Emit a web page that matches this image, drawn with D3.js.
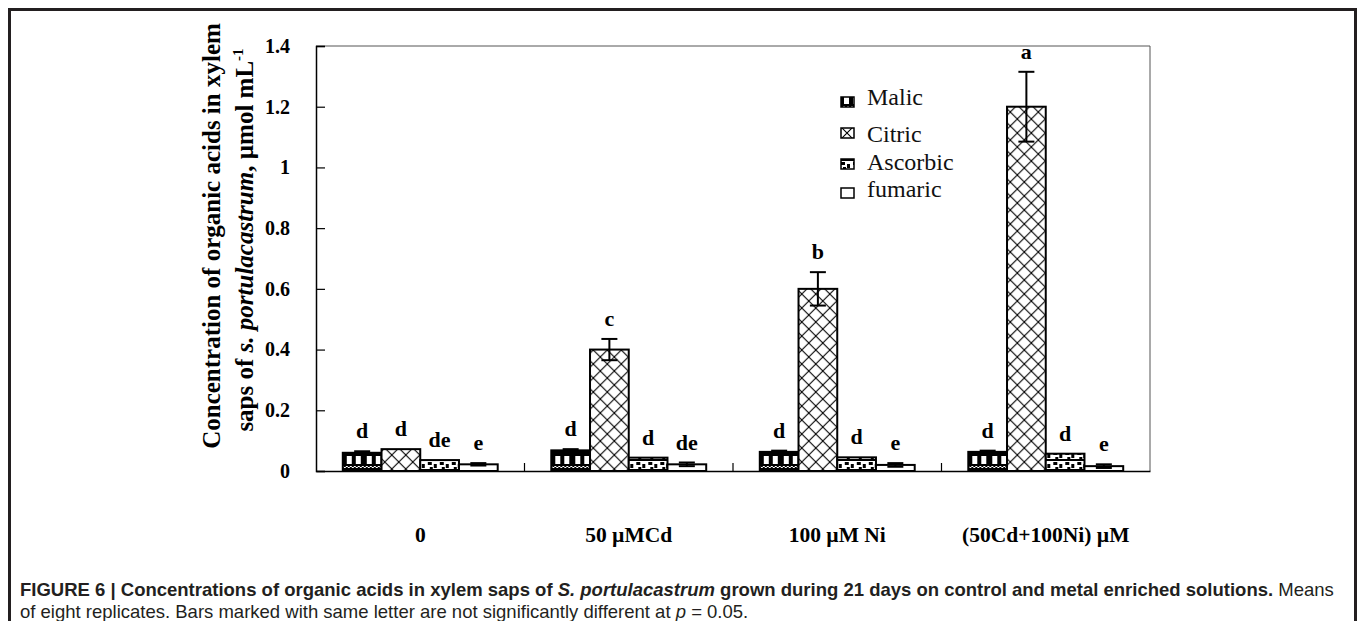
<!DOCTYPE html>
<html lang="en">
<head>
<meta charset="utf-8">
<title>Organic acids in xylem saps</title>
<script src="https://cdn.jsdelivr.net/npm/d3@7"></script>
<style>
	body { margin: 0; background: #fff; }
	svg { display: block; }
</style>
</head>
<body>
<script>

// data
var categories = ["0", "50 \u00b5MCd", "100 \u00b5M Ni", "(50Cd+100Ni) \u00b5M"];
var series = ["Malic", "Citric", "Ascorbic", "fumaric"];
var malic = [0.06, 0.068, 0.063, 0.063];
var citric = [0.072, 0.40, 0.60, 1.20];
var ascorbic = [0.036, 0.044, 0.045, 0.057];
var fumaric = [0.022, 0.022, 0.02, 0.016];
var malicErr = [0.005, 0.004, 0.004, 0.004];
var citricErr = [0, 0.035, 0.055, 0.115];
var ascorbicErr = [0, 0, 0, 0];
var fumaricErr = [0.004, 0.006, 0.006, 0.006];
var letters = [
	["d", "d", "de", "e"],
	["d", "c", "d", "de"],
	["d", "b", "d", "e"],
	["d", "a", "d", "e"]
];
var yTicks = [0, 0.2, 0.4, 0.6, 0.8, 1, 1.2, 1.4];

var values = [malic, citric, ascorbic, fumaric];
var errors = [malicErr, citricErr, ascorbicErr, fumaricErr];

var w = 1358, h = 621;
var plotL = 316, plotR = 1150, plotT = 46, plotB = 471;

var svg = d3.select("body").append("svg")
	.attr("width", w)
	.attr("height", h);

var defs = svg.append("defs");

var x0 = d3.scaleBand()
	.domain(categories)
	.range([plotL, plotR])
	.paddingInner(0.257)
	.paddingOuter(0.1285);

var x1 = d3.scaleBand()
	.domain(series)
	.range([0, x0.bandwidth()]);

var y = d3.scaleLinear()
	.domain([0, 1.4])
	.range([plotB, plotT]);

// fill patterns, roughly like the excel ones
var pMalic = defs.append("pattern")
	.attr("id", "p-malic")
	.attr("patternUnits", "userSpaceOnUse")
	.attr("width", 20).attr("height", 20)
	.attr("patternTransform", "translate(0," + (y(0) - 20) + ")");
pMalic.append("rect").attr("width", 20).attr("height", 20).attr("fill", "#000");
pMalic.append("rect").attr("x", 4).attr("y", 5).attr("width", 5).attr("height", 8).attr("fill", "#fff");
pMalic.append("rect").attr("x", 13).attr("y", 5).attr("width", 5).attr("height", 8).attr("fill", "#fff");
for (var i = 0; i < 10; i++) {
	pMalic.append("rect").attr("x", i * 2).attr("y", 15 + (i % 2)).attr("width", 1).attr("height", 1).attr("fill", "#fff");
	pMalic.append("rect").attr("x", i * 2 + 1).attr("y", 16 - (i % 2)).attr("width", 1).attr("height", 1).attr("fill", "#fff");
}

var pCitric = defs.append("pattern")
	.attr("id", "p-citric")
	.attr("patternUnits", "userSpaceOnUse")
	.attr("width", 14).attr("height", 14);
pCitric.append("rect").attr("width", 14).attr("height", 14).attr("fill", "#fff");
pCitric.append("path")
	.attr("d", "M0,0L14,14M14,0L0,14")
	.attr("stroke", "#000")
	.attr("stroke-width", 1.1);

var pAsc = defs.append("pattern")
	.attr("id", "p-asc")
	.attr("patternUnits", "userSpaceOnUse")
	.attr("width", 12).attr("height", 10)
	.attr("patternTransform", "translate(0," + (y(0) - 10) + ")");
pAsc.append("rect").attr("width", 12).attr("height", 10).attr("fill", "#fff");
pAsc.append("rect").attr("x", 1).attr("y", 1).attr("width", 4).attr("height", 3).attr("fill", "#000");
pAsc.append("rect").attr("x", 7).attr("y", 3).attr("width", 3).attr("height", 4).attr("fill", "#000");
pAsc.append("rect").attr("x", 3).attr("y", 6).attr("width", 3).attr("height", 2).attr("fill", "#000");
pAsc.append("rect").attr("x", 0).attr("y", 8).attr("width", 12).attr("height", 2).attr("fill", "#000");

var fills = ["url(#p-malic)", "url(#p-citric)", "url(#p-asc)", "#fff"];

// figure frame (top, left, right)
svg.append("path")
	.attr("d", "M9.5," + h + "V9.5H1355.5V" + h)
	.attr("fill", "none")
	.attr("stroke", "#231f20")
	.attr("stroke-width", 3);

// plot box top and right
svg.append("path")
	.attr("d", "M" + plotL + "," + plotT + "H" + plotR + "V" + plotB)
	.attr("fill", "none")
	.attr("stroke", "#555")
	.attr("stroke-width", 1);

// bars
var groups = svg.selectAll("g.group")
	.data(categories)
	.enter()
	.append("g")
	.attr("class", "group")
	.attr("transform", function(d){ return "translate(" + x0(d) + ",0)"; });

groups.each(function(cat, ci){
	var g = d3.select(this);
	var rows = series.map(function(s, si){
		return { s: s, si: si, v: values[si][ci], e: errors[si][ci], l: letters[ci][si] };
	});

	g.selectAll("rect.bar")
		.data(rows)
		.enter()
		.append("rect")
		.attr("class", "bar")
		.attr("x", function(d){ return x1(d.s); })
		.attr("y", function(d){ return y(d.v); })
		.attr("width", x1.bandwidth())
		.attr("height", function(d){ return y(0) - y(d.v); })
		.attr("fill", function(d){ return fills[d.si]; })
		.attr("stroke", "#000")
		.attr("stroke-width", 2);

	// error bars (only where there is one)
	var eb = g.selectAll("g.err")
		.data(rows.filter(function(d){ return d.e > 0; }))
		.enter()
		.append("g")
		.attr("class", "err")
		.attr("stroke", "#000")
		.attr("stroke-width", 2);
	eb.append("line")
		.attr("x1", function(d){ return x1(d.s) + x1.bandwidth() / 2; })
		.attr("x2", function(d){ return x1(d.s) + x1.bandwidth() / 2; })
		.attr("y1", function(d){ return y(d.v + d.e); })
		.attr("y2", function(d){ return y(d.v - d.e); });
	eb.append("line")
		.attr("x1", function(d){ return x1(d.s) + x1.bandwidth() / 2 - 8; })
		.attr("x2", function(d){ return x1(d.s) + x1.bandwidth() / 2 + 8; })
		.attr("y1", function(d){ return y(d.v + d.e); })
		.attr("y2", function(d){ return y(d.v + d.e); });
	eb.append("line")
		.attr("x1", function(d){ return x1(d.s) + x1.bandwidth() / 2 - 8; })
		.attr("x2", function(d){ return x1(d.s) + x1.bandwidth() / 2 + 8; })
		.attr("y1", function(d){ return y(d.v - d.e); })
		.attr("y2", function(d){ return y(d.v - d.e); });

	// significance letters
	g.selectAll("text.sig")
		.data(rows)
		.enter()
		.append("text")
		.attr("class", "sig")
		.attr("x", function(d){ return x1(d.s) + x1.bandwidth() / 2; })
		.attr("y", function(d){ return y(d.v + d.e) - 13; })
		.attr("text-anchor", "middle")
		.attr("font-family", "'Liberation Serif', 'Times New Roman', serif")
		.attr("font-weight", "bold")
		.attr("font-size", "22px")
		.text(function(d){ return d.l; });
});

// y axis
var yAxis = d3.axisLeft(y)
	.tickValues(yTicks)
	.tickSize(-9)
	.tickPadding(26)
	.tickFormat(function(d){ return String(d); });

var gy = svg.append("g")
	.attr("transform", "translate(" + plotL + ",0)")
	.call(yAxis);
gy.select(".domain").attr("stroke", "#000").attr("stroke-width", 1.5);
gy.selectAll(".tick line").attr("stroke", "#000").attr("stroke-width", 1.2);
gy.selectAll(".tick text")
	.attr("font-family", "'Liberation Serif', 'Times New Roman', serif")
	.attr("font-weight", "bold")
	.attr("font-size", "20px")
	.attr("fill", "#000");

// x axis, ticks sit between the groups
var xAxis = d3.axisBottom(x0).tickSize(0).tickPadding(56);
var gx = svg.append("g")
	.attr("transform", "translate(0," + plotB + ")")
	.call(xAxis);
gx.select(".domain").attr("stroke", "#000").attr("stroke-width", 1.5);
gx.selectAll(".tick text")
	.attr("font-family", "'Liberation Serif', 'Times New Roman', serif")
	.attr("font-weight", "bold")
	.attr("font-size", "21.5px")
	.attr("fill", "#000");
gx.selectAll("line.sep")
	.data(categories.slice(1))
	.enter()
	.append("line")
	.attr("class", "sep")
	.attr("x1", function(d){ return x0(d) - x0.step() * x0.paddingInner() / 2; })
	.attr("x2", function(d){ return x0(d) - x0.step() * x0.paddingInner() / 2; })
	.attr("y1", 0)
	.attr("y2", -8)
	.attr("stroke", "#000")
	.attr("stroke-width", 1.2);

// y axis title
var yTitle = svg.append("text")
	.attr("transform", "translate(220,236) rotate(-90)")
	.attr("text-anchor", "middle")
	.attr("font-family", "'Liberation Serif', 'Times New Roman', serif")
	.attr("font-weight", "bold")
	.attr("font-size", "25px");
yTitle.append("tspan")
	.attr("x", 0).attr("y", 0)
	.text("Concentration of organic acids in xylem");
var t2 = yTitle.append("tspan").attr("x", -4).attr("y", 33);
t2.append("tspan").text("saps of ");
t2.append("tspan").attr("font-style", "italic").text("s. portulacastrum");
t2.append("tspan").text(", \u00b5mol mL");
t2.append("tspan").attr("font-size", "15px").attr("dy", -10).text("-1");

// legend
var legendY = [97, 128, 159, 188];
var labelY = [105, 142, 170, 197];
var lg = svg.append("g").attr("class", "legend");
lg.selectAll("rect")
	.data(series)
	.enter()
	.append("rect")
	.attr("x", 841)
	.attr("y", function(d, i){ return legendY[i]; })
	.attr("width", 13)
	.attr("height", 10)
	.attr("fill", function(d, i){ return fills[i]; })
	.attr("stroke", "#000")
	.attr("stroke-width", 1.5);
lg.selectAll("text")
	.data(series)
	.enter()
	.append("text")
	.attr("x", 867)
	.attr("y", function(d, i){ return labelY[i]; })
	.attr("font-family", "'Liberation Serif', 'Times New Roman', serif")
	.attr("font-size", "24px")
	.attr("fill", "#111")
	.text(function(d){ return d; });

// caption
var cap = svg.append("text")
	.attr("font-family", "'Liberation Sans', Arial, sans-serif")
	.attr("font-size", "18.5px")
	.attr("fill", "#231f20");
var c1 = cap.append("tspan").attr("x", 20).attr("y", 596);
c1.append("tspan").attr("font-weight", "bold").text("FIGURE 6 | Concentrations of organic acids in xylem saps of ");
c1.append("tspan").attr("font-weight", "bold").attr("font-style", "italic").text("S. portulacastrum");
c1.append("tspan").attr("font-weight", "bold").text(" grown during 21 days on control and metal enriched solutions.");
c1.append("tspan").text(" Means");
var c2 = cap.append("tspan").attr("x", 20).attr("y", 618);
c2.append("tspan").text("of eight replicates. Bars marked with same letter are not significantly different at ");
c2.append("tspan").attr("font-style", "italic").text("p");
c2.append("tspan").text(" = 0.05.");

</script>
</body>
</html>
